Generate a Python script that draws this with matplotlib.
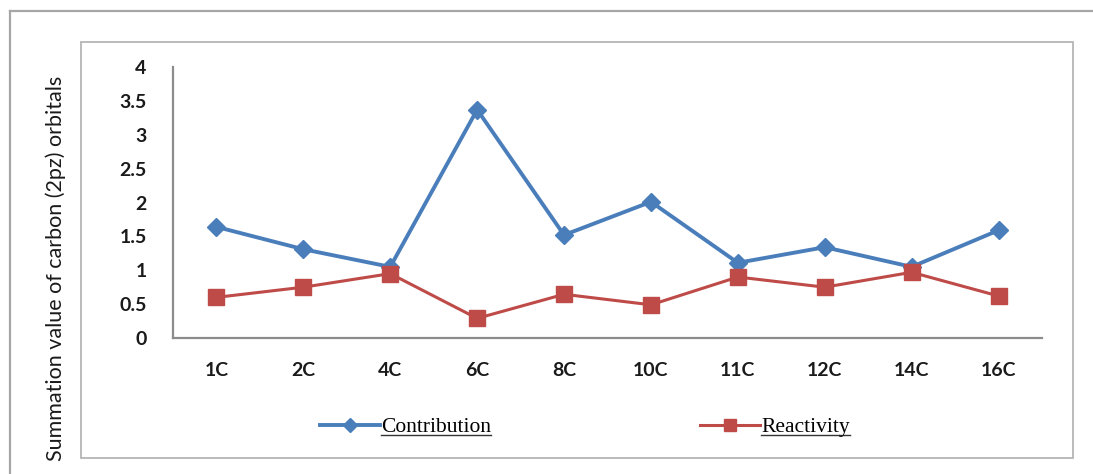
import matplotlib
matplotlib.use("Agg")
import matplotlib.pyplot as plt
from matplotlib.lines import Line2D
from matplotlib.patches import Rectangle

plt.rcParams["font.family"] = ["Lato", "DejaVu Sans"]

# Carbon positions and the two plotted series
carbons = ["1C", "2C", "4C", "6C", "8C", "10C", "11C", "12C", "14C", "16C"]
contribution = [1.64, 1.31, 1.05, 3.37, 1.52, 2.01, 1.11, 1.34, 1.05, 1.59]
reactivity = [0.60, 0.75, 0.95, 0.29, 0.645, 0.49, 0.90, 0.75, 0.97, 0.62]
y_ticks = [0, 0.5, 1, 1.5, 2, 2.5, 3, 3.5, 4]
y_tick_labels = ["0", "0.5", "1", "1.5", "2", "2.5", "3", "3.5", "4"]

W, H = 1093, 474
fig = plt.figure(figsize=(W / 100, H / 100), dpi=100)

# outer frame (open on right/bottom) and inner chart frame
fig.add_artist(Line2D([10 / W, 10 / W], [0, 1 - 11 / H], color="#a6a6a6", lw=1.6,
                      transform=fig.transFigure))
fig.add_artist(Line2D([10 / W, 1], [1 - 11 / H, 1 - 11 / H], color="#a6a6a6", lw=1.6,
                      transform=fig.transFigure))
fig.add_artist(Rectangle((81 / W, 1 - 458 / H), (1073 - 81) / W, (458 - 42) / H,
                         fill=False, edgecolor="#b5b5b5", lw=1.3,
                         transform=fig.transFigure))

ax = fig.add_axes([173 / W, 1 - 338 / H, (1042 - 173) / W, (338 - 67) / H])
x = list(range(len(carbons)))

l1, = ax.plot(x, contribution, color="#4a7ebb", lw=2.8, marker="D", ms=9,
              label="Contribution")
l2, = ax.plot(x, reactivity, color="#be4b48", lw=2.2, marker="s", ms=12,
              label="Reactivity")

ax.set_xlim(-0.5, len(carbons) - 0.5)
ax.set_ylim(0, 4)
ax.set_xticks(x)
ax.set_xticklabels(carbons)
ax.set_yticks(y_ticks)
ax.set_yticklabels(y_tick_labels)
ax.tick_params(axis="both", length=0, labelsize=14)
ax.tick_params(axis="x", pad=17)
ax.tick_params(axis="y", pad=19)
for lab in ax.get_xticklabels() + ax.get_yticklabels():
    lab.set_fontweight("bold")
    lab.set_color("#1a1a1a")
for s in ["top", "right"]:
    ax.spines[s].set_visible(False)
for s in ["left", "bottom"]:
    ax.spines[s].set_color("#8c8c8c")
    ax.spines[s].set_linewidth(1.6)

fig.text(56 / W, 1 - 268 / H, "Summation value of carbon (2pz) orbitals",
         rotation=90, ha="center", va="center", fontsize=15.5, color="#1a1a1a")

legends = []
for handle, x0 in [(l1, 320), (l2, 700)]:
    leg = fig.legend(handles=[handle], loc="center left",
                     bbox_to_anchor=(x0 / W, 1 - 427 / H), frameon=False,
                     borderpad=0, borderaxespad=0, handlelength=2.8,
                     handletextpad=0.05, markerscale=0.75,
                     prop={"family": "Liberation Serif", "size": 15.5})
    legends.append(leg)

# underline the legend entries
fig.canvas.draw()
renderer = fig.canvas.get_renderer()
inv = fig.transFigure.inverted()
for leg in legends:
    for t in leg.get_texts():
        bb = t.get_window_extent(renderer)
        (xa, ya), (xb, _) = inv.transform([(bb.x0, bb.y0 + 2.5), (bb.x1, bb.y0)])
        fig.add_artist(Line2D([xa, xb], [ya, ya], color="#333333", lw=1.0,
                              transform=fig.transFigure))

fig.savefig("out.png", dpi=100)
